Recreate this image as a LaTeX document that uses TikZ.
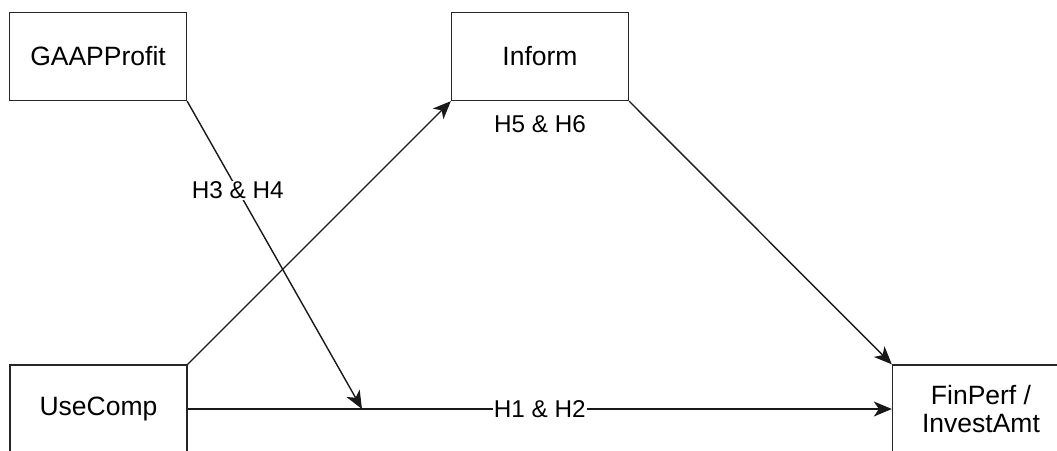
\documentclass[tikz,border=0pt]{standalone}
\usepackage{fontspec}
\setmainfont{Liberation Sans}
\usetikzlibrary{arrows.meta}
\begin{document}
\begin{tikzpicture}[x=1pt,y=-1pt,
  varbox/.style={draw=black!85, line width=1.3pt, minimum width=177pt, minimum height=88pt,
    inner sep=0pt, align=center, font=\fontsize{26.5}{27.7}\selectfont},
  link/.style={draw=black!90, line width=1.4pt,
    -{Stealth[length=18pt,width=15pt,inset=5pt]}},
  hyp/.style={fill=white, inner sep=1pt, font=\fontsize{24.3}{26}\selectfont}
]
\useasboundingbox (0,0) rectangle (1057,450);

% variables
\node[varbox] (gaap) at (98,56.5) {GAAPProfit};
\node[varbox] (inform) at (540,56.5) {Inform};
\node[varbox] (use) at (98.5,409) {UseComp};
\node[varbox] (fin) at (981,409) {FinPerf /\\InvestAmt};

% point where the moderator meets the main path
\coordinate (mod) at (362,409);

% paths
\draw[link] (use.east) -- node[hyp, pos=0.5] {H1 \& H2} (fin.west);
\draw[link] (gaap.south east) -- node[hyp, pos=0.29] {H3 \& H4} (mod);
\draw[link] (use.north east) -- (inform.south west);
\draw[link] (inform.south east) -- (fin.north west);
\node[hyp, fill=none] (h56) at (540,124) {H5 \& H6};
\end{tikzpicture}
\end{document}
